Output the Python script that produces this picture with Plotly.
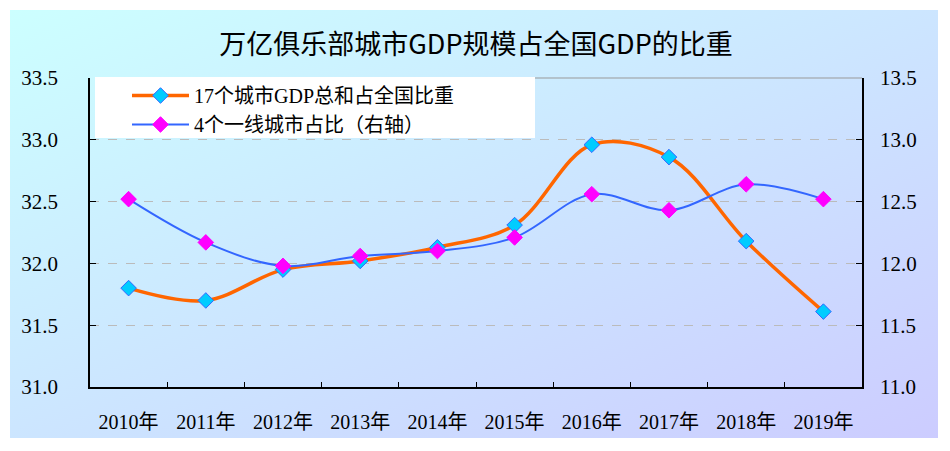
import base64
import plotly.graph_objects as go

years = ["2010年", "2011年", "2012年", "2013年", "2014年", "2015年", "2016年", "2017年", "2018年", "2019年"]
share17 = [31.80, 31.70, 31.95, 32.02, 32.13, 32.31, 32.96, 32.86, 32.18, 31.61]
share4 = [12.52, 12.17, 11.98, 12.06, 12.10, 12.21, 12.56, 12.43, 12.64, 12.52]
left_ticks = [31.0, 31.5, 32.0, 32.5, 33.0, 33.5]
right_ticks = [11.0, 11.5, 12.0, 12.5, 13.0, 13.5]
title_text = "万亿俱乐部城市GDP规模占全国GDP的比重"
name17 = "17个城市GDP总和占全国比重"
name4 = "4个一线城市占比（右轴）"

svg = ('<svg xmlns="http://www.w3.org/2000/svg" width="928" height="428" viewBox="0 0 928 428" preserveAspectRatio="none">'
       '<defs><linearGradient id="g" x1="0" y1="0" x2="1" y2="1">'
       '<stop offset="0" stop-color="#CCFFFF"/><stop offset="1" stop-color="#CCCCFF"/>'
       '</linearGradient></defs><rect width="928" height="428" fill="url(#g)"/></svg>')
src = "data:image/svg+xml;base64," + base64.b64encode(svg.encode()).decode()

serif = "Liberation Serif, Noto Sans CJK SC, serif"

fig = go.Figure()
fig.add_trace(go.Scatter(
    x=years, y=share17, name=name17, mode="lines+markers",
    line=dict(color="#FF6600", width=3.5, shape="spline", smoothing=1.0),
    marker=dict(symbol="diamond", size=12, color="#00CCFF", line=dict(color="#3366FF", width=1)),
))
fig.add_trace(go.Scatter(
    x=years, y=share4, name=name4, mode="lines+markers", yaxis="y2",
    line=dict(color="#3366FF", width=2, shape="spline", smoothing=1.0),
    marker=dict(symbol="diamond", size=12, color="#FF00FF", line=dict(color="#FF00FF", width=1)),
))

L, R, T, B = 90, 88, 78, 64
pw, ph = 950 - L - R, 451 - T - B

def px(x):
    return (x - L) / pw

def py(y):
    return (451 - B - y) / ph

fig.update_layout(
    width=950, height=451,
    margin=dict(l=L, r=R, t=T, b=B),
    paper_bgcolor="white",
    plot_bgcolor="rgba(0,0,0,0)",
    font=dict(family=serif, color="black"),
    images=[dict(source=src, xref="paper", yref="paper", x=px(10), y=py(10),
                 sizex=(938 - 10) / pw, sizey=(438 - 10) / ph, sizing="stretch",
                 xanchor="left", yanchor="top", layer="below")],
    shapes=[
        dict(type="rect", xref="paper", yref="paper", x0=px(95), x1=px(535),
             y0=py(138), y1=py(77), fillcolor="white", line=dict(width=0), layer="below"),
        dict(type="line", xref="paper", yref="paper", x0=px(535), x1=1, y0=1, y1=1,
             line=dict(color="#999999", width=1), layer="below"),
    ],
    title=dict(text=title_text, x=0.5, xref="paper", xanchor="center", y=(451 - 45) / 451, yanchor="middle",
               font=dict(family="Noto Sans CJK SC", size=27, color="black")),
    legend=dict(x=px(127), y=py(76), xanchor="left", yanchor="top", bgcolor="rgba(0,0,0,0)",
                borderwidth=0, itemwidth=57, tracegroupgap=0,
                font=dict(family=serif, size=20, color="black")),
    xaxis=dict(type="category", range=[-0.5, 9.5], showline=True, linecolor="black", linewidth=1.5,
               ticks="inside", ticklen=5, tickcolor="black", tickson="boundaries", showgrid=False,
               tickfont=dict(family=serif, size=20, color="black"), ticklabelstandoff=16, zeroline=False),
    yaxis=dict(range=[31, 33.5], tickmode="array", tickvals=left_ticks,
               ticktext=["%.1f" % v for v in left_ticks],
               showline=True, linecolor="black", linewidth=1.5, ticks="inside", ticklen=6, tickcolor="black",
               showgrid=True, gridcolor="#BBBBBB", griddash="dash", gridwidth=1, zeroline=False,
               tickfont=dict(family=serif, size=21, color="black"), ticklabelstandoff=26),
    yaxis2=dict(range=[11, 13.5], tickmode="array", tickvals=right_ticks,
                ticktext=["%.1f" % v for v in right_ticks],
                overlaying="y", side="right", showline=True, linecolor="black", linewidth=1.5,
                ticks="inside", ticklen=6, tickcolor="black", showgrid=False, zeroline=False,
                tickfont=dict(family=serif, size=21, color="black"), ticklabelstandoff=12),
)

fig.write_html("out.html")
